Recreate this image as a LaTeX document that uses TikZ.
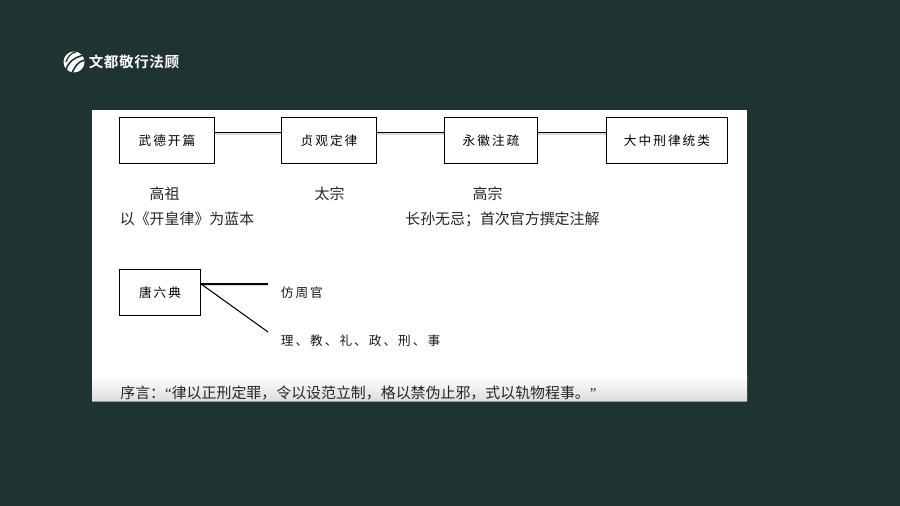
\documentclass[tikz,border=0pt]{standalone}
\usepackage{fontspec}
\newfontfamily\cjk{Noto Sans CJK SC}
\newfontfamily\cjkbox[LetterSpace=16]{Noto Sans CJK SC}
\newfontfamily\cjklogo[LetterSpace=4]{Noto Sans CJK SC Bold}
\newfontfamily\quotefont{Liberation Serif}
\usetikzlibrary{positioning}
\definecolor{slide}{HTML}{1F3331}
\tikzset{box/.style={shape=rectangle, draw=black, line width=.8pt, fill=white, inner sep=0pt,
    font=\cjkbox\fontsize{7.2pt}{9pt}\selectfont}}
\tikzset{link/.style={draw=black, line width=.6pt,
    preaction={draw=black!14, line width=1pt, transform canvas={yshift=-.9pt}}}}
\tikzset{txt/.style={inner sep=0pt, text=black!85, font=\cjk\fontsize{8.5pt}{10pt}\selectfont}}
\tikzset{boxtxt/.style={inner sep=0pt, text=black!90, font=\cjkbox\fontsize{7.2pt}{9pt}\selectfont}}

\begin{document}
\begin{tikzpicture}[x=.02cm, y=-.02cm]
    \useasboundingbox (0,0) rectangle (900,506);

    %%%% Background and sheet
    \path[fill=slide] (0,0) rectangle (900,506);
    \path[fill=white] (92,110) rectangle (747,402);
    \path[top color=white, bottom color=black!13] (92,376) rectangle (747,401);
    \path[fill=black!40] (92,401) rectangle (747,402);

    %%%% Logo
    \path[fill=white] (74,62) circle (10.5);
    \draw[slide, line width=.9pt] (66,70) to[out=75, in=195] (84,55);
    \draw[slide, line width=.9pt] (72,73) to[out=65, in=190] (85,60);
    \draw[slide, line width=.7pt] (66,62) to[out=70, in=190] (76,52);
    \node(logo) at (134,62) [inner sep=0pt, text=white, font=\cjklogo\fontsize{8.3pt}{10pt}\selectfont] {文都敬行法顾};

    %%%% Top row
    \node[box, minimum width=54pt, minimum height=26.4pt](wude) at (167,140.5)   {武德开篇};
    \node[box, minimum width=54pt, minimum height=26.4pt](zhenguan) at (329,140.5) {贞观定律};
    \node[box, minimum width=53pt, minimum height=26.4pt](yonghui) at (491,140.5) {永徽注疏};
    \node[box, minimum width=69pt, minimum height=26.4pt](dazhong) at (667,140.5) {大中刑律统类};

    %%%% Notes under the top row
    \node[txt](gaozu) at (164.5,194)   {高祖};
    \node[txt](taizong) at (329.5,194) {太宗};
    \node[txt](gaozong) at (487.5,194) {高宗};
    \node[txt, anchor=west](lanben) at (119.5,219)   {以《开皇律》为蓝本};
    \node[txt, anchor=west](zhujie) at (405,219)   {长孙无忌；首次官方撰定注解};

    %%%% Lower figure
    \node[box, minimum width=46pt, minimum height=26.4pt](liudian) at (160,292.5) {唐六典};
    \coordinate (upper) at (268,284);
    \coordinate (lower) at (268,332);
    \node[boxtxt, anchor=west](zhouguan) at (280.5,293) {仿周官};
    \node[boxtxt, anchor=west](liushi) at (280.5,341)   {理、教、礼、政、刑、事};
    \node[txt, anchor=west](xuyan) at (120,393) {序言：{\quotefont“}律以正刑定罪，令以设范立制，格以禁伪止邪，式以轨物程事。{\quotefont”}};

    %%%% Edges
    \draw [link] ([yshift=4.8pt]wude.east) to ([yshift=4.8pt]zhenguan.west);
    \draw [link] ([yshift=4.8pt]zhenguan.east) to ([yshift=4.8pt]yonghui.west);
    \draw [link] ([yshift=4.8pt]yonghui.east) to ([yshift=4.8pt]dazhong.west);
    \draw [link] (liudian.east |- upper) to (upper);
    \draw [draw=black, line width=.6pt] (liudian.east |- upper) to (lower);
\end{tikzpicture}
\end{document}
